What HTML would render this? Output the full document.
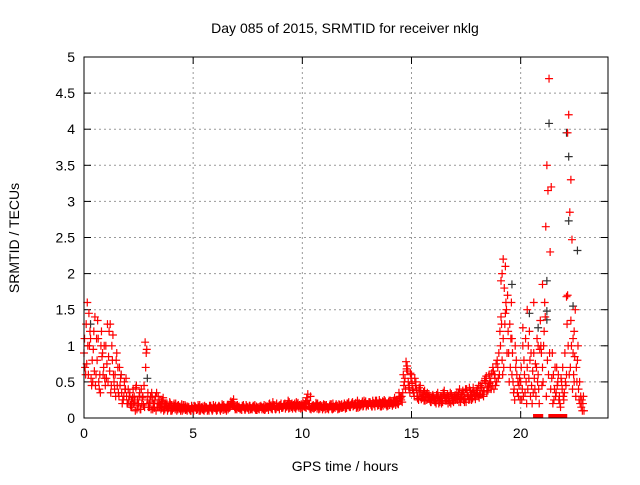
<!DOCTYPE html>
<html><head><meta charset="utf-8"><style>
body{margin:0;background:#fff;width:640px;height:480px;overflow:hidden}
svg text{font-family:"Liberation Sans",sans-serif;font-size:14px;fill:#000}
</style></head><body>
<svg id="chart" width="640" height="480">
<text x="345" y="33" text-anchor="middle">Day 085 of 2015, SRMTID for receiver nklg</text>
<text x="345" y="471" text-anchor="middle">GPS time / hours</text>
<text transform="translate(19,238) rotate(-90)" text-anchor="middle">SRMTID / TECUs</text>
<g id="grid"></g><g id="marks"></g>
<rect x="84" y="57" width="524" height="361" fill="none" stroke="#000" stroke-width="1"/>
</svg>
<script>
const xTicks=[0,5,10,15,20];
const yTicks=[0,0.5,1,1.5,2,2.5,3,3.5,4,4.5,5];
const yTickLabels=["0","0.5","1","1.5","2","2.5","3","3.5","4","4.5","5"];
const red1=[0.9,1.3,0.6,1.1,0.5,1.4,0.8,0.4,1.2,0.7,
1.0,0.5,1.3,0.8,0.4,0.9,0.3,0.6,0.25,0.4,
0.2,0.35,0.15,0.3,0.45,0.2,0.12,0.3,1.05,0.25,
0.15,0.35,0.2,0.1,0.3,0.18,0.25,0.12,0.2,0.15,
0.18,0.14,0.2,0.12,0.16,0.1,0.14,0.12,0.15,0.1,
0.13,0.16,0.12,0.18,0.14,0.1,0.15,0.13,0.17,0.12,
0.14,0.11,0.16,0.13,0.18,0.14,0.12,0.16,0.22,0.15,
0.12,0.16,0.14,0.18,0.13,0.15,0.17,0.12,0.14,0.16,
0.13,0.17,0.15,0.12,0.16,0.2,0.14,0.18,0.13,0.15,
0.17,0.14,0.2,0.16,0.22,0.15,0.18,0.13,0.21,0.17,
0.14,0.19,0.28,0.16,0.12,0.18,0.15,0.2,0.13,0.17,
0.15,0.18,0.12,0.16,0.2,0.14,0.17,0.13,0.19,0.15,
0.17,0.2,0.15,0.22,0.18,0.16,0.21,0.19,0.17,0.23,
0.19,0.22,0.16,0.2,0.24,0.18,0.21,0.17,0.23,0.2,
0.18,0.22,0.2,0.25,0.19,0.28,0.35,0.55,0.72,0.45,
0.6,0.35,0.5,0.3,0.45,0.28,0.38,0.25,0.33,0.22,
0.3,0.25,0.35,0.22,0.28,0.38,0.24,0.3,0.2,0.27,
0.32,0.25,0.4,0.28,0.35,0.22,0.3,0.38,0.27,0.33,
0.35,0.28,0.42,0.3,0.5,0.38,0.55,0.45,0.6,0.5,
0.9,1.4,1.1,2.1,1.7,1.3,0.6,0.4,0.8,0.3,
0.5,1.0,0.35,0.7,1.2,0.45,0.9,0.3,0.6,1.35,
0.7,1.6,3.5,4.7,3.2,0.6,0.3,0.5,0.2,0.4,
0.35,0.6,4.2,3.3,0.9,1.5,0.8,0.5,0.25,0.1];
const red2=[0.7,1.6,1.0,0.45,1.2,0.6,1.1,0.35,0.9,0.55,
0.75,1.2,0.45,0.6,0.3,0.7,0.45,0.2,0.5,0.3,
0.25,0.15,0.4,0.1,0.25,0.35,0.2,0.45,0.9,0.15,
0.3,0.12,0.25,0.2,0.15,0.22,0.1,0.18,0.13,0.2,
0.12,0.17,0.1,0.15,0.13,0.18,0.11,0.16,0.12,0.14,
0.17,0.11,0.15,0.12,0.16,0.13,0.1,0.17,0.12,0.15,
0.12,0.15,0.1,0.17,0.12,0.16,0.14,0.19,0.26,0.13,
0.15,0.12,0.17,0.13,0.16,0.11,0.14,0.17,0.12,0.14,
0.16,0.12,0.18,0.14,0.11,0.17,0.22,0.13,0.16,0.12,
0.14,0.19,0.15,0.24,0.17,0.13,0.2,0.16,0.14,0.19,
0.17,0.22,0.33,0.13,0.17,0.14,0.19,0.12,0.16,0.14,
0.12,0.15,0.17,0.13,0.16,0.19,0.13,0.16,0.15,0.18,
0.2,0.16,0.19,0.17,0.21,0.14,0.18,0.23,0.2,0.18,
0.22,0.18,0.21,0.24,0.17,0.22,0.19,0.25,0.18,0.22,
0.21,0.19,0.24,0.2,0.27,0.3,0.45,0.78,0.5,0.62,
0.4,0.55,0.3,0.42,0.26,0.36,0.3,0.28,0.24,0.3,
0.24,0.32,0.2,0.3,0.35,0.24,0.32,0.22,0.3,0.25,
0.28,0.35,0.22,0.38,0.26,0.32,0.42,0.25,0.36,0.3,
0.3,0.45,0.33,0.52,0.36,0.6,0.4,0.65,0.45,0.7,
1.2,0.8,1.8,1.5,0.9,1.1,0.5,1.0,0.35,0.55,
0.25,0.8,0.5,1.0,0.3,0.65,0.4,1.1,0.2,0.9,
1.0,2.65,3.15,2.3,0.9,0.4,0.7,0.25,0.55,0.3,
0.5,1.7,2.85,2.47,1.2,0.7,0.4,0.3,0.2];
const red3=[1.1,0.75,1.45,0.55,0.95,0.45,1.35,0.6,0.85,1.0,
0.55,0.85,0.35,1.15,0.6,0.45,0.7,0.35,0.3,0.55,
0.4,0.18,0.28,0.22,0.12,0.3,0.4,0.18,0.7,0.35,
0.22,0.28,0.14,0.35,0.2,0.12,0.28,0.2,0.1,0.22,
0.1,0.2,0.15,0.18,0.1,0.14,0.18,0.1,0.12,0.17,
0.1,0.14,0.18,0.1,0.12,0.17,0.14,0.1,0.14,0.18,
0.17,0.14,0.12,0.19,0.15,0.1,0.18,0.23,0.17,0.12,
0.18,0.14,0.11,0.15,0.18,0.13,0.12,0.15,0.18,0.11,
0.12,0.15,0.12,0.17,0.14,0.15,0.12,0.16,0.2,0.17,
0.2,0.16,0.13,0.19,0.14,0.2,0.15,0.22,0.16,0.13,
0.21,0.15,0.24,0.2,0.15,0.13,0.21,0.16,0.18,0.12,
0.18,0.13,0.15,0.19,0.13,0.17,0.12,0.18,0.14,0.2,
0.14,0.22,0.18,0.16,0.2,0.24,0.15,0.2,0.24,0.16,
0.17,0.2,0.24,0.16,0.2,0.25,0.16,0.22,0.2,0.17,
0.24,0.17,0.28,0.22,0.35,0.25,0.6,0.4,0.65,0.35,
0.48,0.3,0.4,0.25,0.36,0.32,0.24,0.35,0.28,0.26,
0.27,0.2,0.3,0.27,0.22,0.3,0.28,0.25,0.33,0.22,
0.25,0.3,0.27,0.32,0.22,0.4,0.25,0.32,0.42,0.26,
0.4,0.33,0.48,0.38,0.58,0.44,0.5,0.7,0.55,0.8,
0.6,1.3,0.7,1.6,1.2,0.7,0.9,0.25,0.6,0.45,
0.7,0.3,1.1,0.4,0.8,0.2,0.55,0.7,0.4,1.0,
0.5,1.4,0.8,0.9,0.55,0.25,0.35,0.6,0.15,0.7,
0.9,1.3,0.6,1.0,0.6,0.3,1.0,0.2,0.1];
const red4=[0.6,1.0,1.2,0.8,0.65,1.1,0.5,1.0,0.6,0.45,
1.3,0.65,1.0,0.5,0.8,0.35,0.55,0.25,0.4,0.2,
0.3,0.25,0.2,0.42,0.18,0.12,0.28,0.15,0.95,0.2,
0.12,0.2,0.3,0.15,0.25,0.14,0.2,0.16,0.14,0.1,
0.15,0.12,0.17,0.13,0.19,0.12,0.16,0.14,0.1,0.13,
0.15,0.13,0.1,0.15,0.11,0.15,0.12,0.15,0.1,0.14,
0.1,0.17,0.14,0.11,0.13,0.17,0.15,0.2,0.18,0.17,
0.14,0.13,0.16,0.11,0.14,0.17,0.13,0.16,0.11,0.15,
0.15,0.14,0.11,0.15,0.19,0.13,0.17,0.12,0.15,0.18,
0.15,0.18,0.17,0.13,0.18,0.17,0.14,0.19,0.18,0.15,
0.16,0.14,0.2,0.3,0.14,0.16,0.13,0.17,0.15,0.19,
0.17,0.14,0.19,0.12,0.15,0.16,0.19,0.14,0.17,0.13,
0.19,0.15,0.21,0.18,0.14,0.19,0.17,0.16,0.21,0.19,
0.21,0.16,0.19,0.22,0.18,0.16,0.23,0.19,0.16,0.24,
0.2,0.24,0.18,0.23,0.3,0.22,0.5,0.68,0.42,0.55,
0.38,0.45,0.27,0.38,0.3,0.24,0.33,0.3,0.22,0.32,
0.22,0.28,0.25,0.2,0.33,0.27,0.2,0.35,0.24,0.3,
0.35,0.22,0.33,0.25,0.4,0.3,0.26,0.35,0.3,0.38,
0.45,0.32,0.38,0.55,0.42,0.48,0.62,0.4,0.75,0.55,
1.0,0.6,1.3,0.9,0.5,1.6,0.35,0.7,0.5,0.25,
0.4,0.6,0.2,0.55,0.9,0.35,0.75,0.5,0.95,0.45,
1.2,0.3,0.6,0.4,0.2,0.7,0.45,0.3,0.5,0.25,
0.45,1.0,0.7,0.4,0.85,0.5,0.25,0.15,0.3];
const spikeT=[19.1,19.15,19.2,20.3,20.6,21.0,20.8,22.1,22.15,22.3,22.45,22.4,19.3,19.6,20.1];
const spikeV=[1.9,2.0,2.2,1.5,1.6,1.85,1.0,1.68,3.95,1.35,0.5,1.1,1.45,1.1,1.25];
const blackT=[21.3,22.2,22.2,22.6,21.2,21.2,21.2,20.4,20.8,19.6,0.3,1.7,2.9,22.4,22.1];
const blackV=[4.08,3.62,2.73,2.32,1.9,1.48,1.36,1.45,1.25,1.85,1.3,0.6,0.55,1.55,3.95];
const zeroT=[20.75,20.85,21.45,21.55,21.85,21.95];
const X0=84,X1=608,Y0=418,Y1=57,XMAX=24,YMAX=5;
const xs=t=>X0+(X1-X0)*t/XMAX, ys=v=>Y0-(Y0-Y1)*v/YMAX;
const NS="http://www.w3.org/2000/svg";
const grid=document.getElementById('grid'),marks=document.getElementById('marks');
function mk(tag,attrs,parent){const e=document.createElementNS(NS,tag);for(const k in attrs)e.setAttribute(k,attrs[k]);parent.appendChild(e);return e;}
xTicks.forEach(t=>{const x=xs(t);
 if(t>0){const g=mk('line',{x1:x,x2:x,y1:Y1,y2:Y0,stroke:'#999','stroke-dasharray':'2,3'},grid);
 
 }
 mk('line',{x1:x,x2:x,y1:Y0,y2:Y0-7,stroke:'#000'},grid);
 mk('line',{x1:x,x2:x,y1:Y1,y2:Y1+7,stroke:'#000'},grid);
 const tx=mk('text',{x:x,y:Y0+20,'text-anchor':'middle'},grid);tx.textContent=t;
 
 });
yTicks.forEach((v,i)=>{const y=ys(v);
 if(v>0&&v<YMAX){const g=mk('line',{x1:X0,x2:X1,y1:y,y2:y,stroke:'#999','stroke-dasharray':'2,3'},grid);
 
 }
 mk('line',{x1:X0,x2:X0+7,y1:y,y2:y,stroke:'#000'},grid);
 mk('line',{x1:X1,x2:X1-7,y1:y,y2:y,stroke:'#000'},grid);
 const tx=mk('text',{x:X0-9,y:y+5,'text-anchor':'end'},grid);tx.textContent=yTickLabels[i];
 
 });
function plus(t,v,col,name){const x=xs(t),y=ys(v);
 const p=mk('path',{d:`M${x-4},${y}h8M${x},${y-4}v8`,stroke:col,'stroke-width':1.2,fill:'none'},marks);
 
 }
blackT.forEach((t,i)=>plus(t,blackV[i],'#333','black-point'));
red1.forEach((v,i)=>plus(i*0.1,v,'#f00','red-point'));
red2.forEach((v,i)=>plus(i*0.1+0.05,v,'#f00','red-point'));
red3.forEach((v,i)=>plus(i*0.1+0.025,v,'#f00','red-point'));
red4.forEach((v,i)=>plus(i*0.1+0.075,v,'#f00','red-point'));
spikeT.forEach((t,i)=>plus(t,spikeV[i],'#f00','red-spike-point'));
zeroT.forEach(t=>{const r=mk('rect',{x:xs(t)-4,y:Y0-4,width:8,height:4,fill:'#f00'},marks);
 
 });
</script>
</body></html>
